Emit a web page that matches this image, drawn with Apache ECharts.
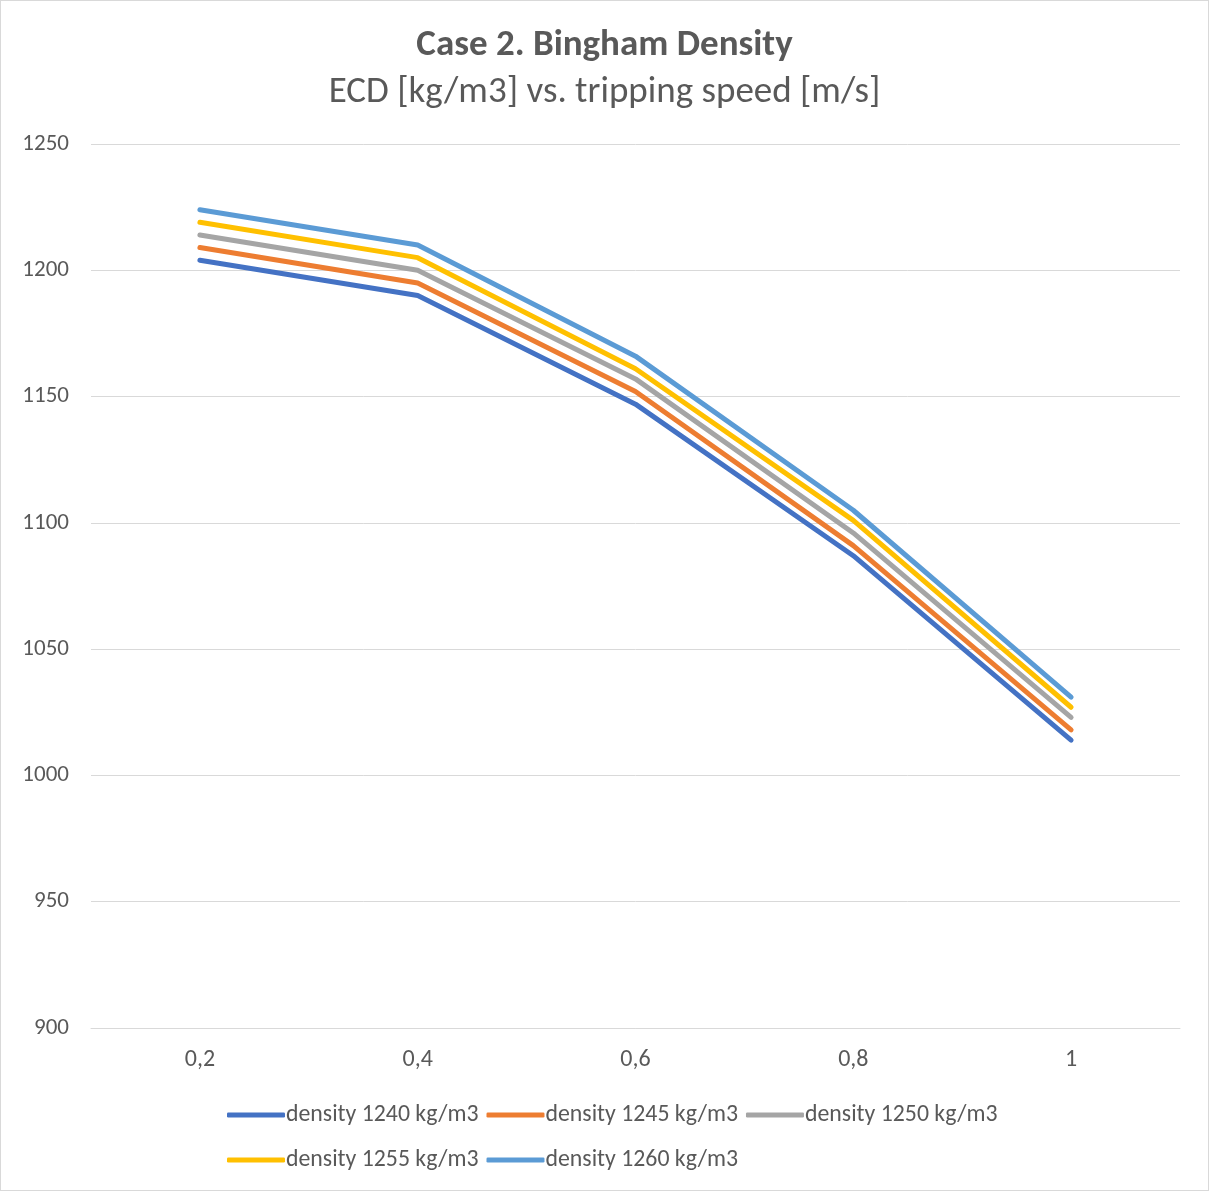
<!DOCTYPE html>
<html>
<head>
<meta charset="utf-8">
<script src="https://cdn.jsdelivr.net/npm/echarts@6/dist/echarts.min.js"></script>
<style>
  html, body { margin: 0; padding: 0; background: #fff; }
  #chart { width: 1209px; height: 1191px; box-sizing: border-box; border: 1px solid #d9d9d9; }
</style>
</head>
<body>
<div id="chart"></div>
<script>
// Tripping speed categories [m/s]
const speeds = ['0,2', '0,4', '0,6', '0,8', '1'];

// ECD [kg/m3] for each mud density
const ecd1240 = [1204, 1190, 1147, 1087, 1014];
const ecd1245 = [1209, 1195, 1152, 1091, 1018];
const ecd1250 = [1214, 1200, 1157, 1096, 1023];
const ecd1255 = [1219, 1205, 1161, 1101, 1027];
const ecd1260 = [1224, 1210, 1166, 1105, 1031];

const seriesNames = [
  'density 1240 kg/m3',
  'density 1245 kg/m3',
  'density 1250 kg/m3',
  'density 1255 kg/m3',
  'density 1260 kg/m3'
];
const seriesData = [ecd1240, ecd1245, ecd1250, ecd1255, ecd1260];
const colors = ['#4472C4', '#ED7D31', '#A5A5A5', '#FFC000', '#5B9BD5'];

const font = 'Carlito, Calibri, "Liberation Sans Narrow", "Open Sans", sans-serif';

const chart = echarts.init(document.getElementById('chart'), null, { renderer: 'canvas' });

const legendCommon = {
  left: 221,
  itemWidth: 58,
  itemHeight: 5,
  itemGap: 8,
  icon: 'roundRect',
  textStyle: { color: '#595959', fontSize: 23.8, fontFamily: font, padding: [0, 0, 0, -4] }
};

chart.setOption({
  color: colors,
  animation: false,
  title: {
    text: 'Case 2. Bingham Density',
    subtext: 'ECD [kg/m3] vs. tripping speed [m/s]',
    left: 'center',
    top: 21,
    itemGap: 10,
    textStyle: { color: '#595959', fontSize: 37, fontWeight: 'bold', fontFamily: font },
    subtextStyle: { color: '#595959', fontSize: 37, fontFamily: font }
  },
  legend: [
    Object.assign({}, legendCommon, { top: 1097, data: seriesNames.slice(0, 3) }),
    Object.assign({}, legendCommon, { top: 1142, data: seriesNames.slice(3) })
  ],
  grid: { left: 90, right: 28, top: 143, bottom: 162, containLabel: false },
  xAxis: {
    type: 'category',
    data: speeds,
    boundaryGap: true,
    axisLine: { lineStyle: { color: '#d9d9d9', width: 1 } },
    axisTick: { show: false },
    axisLabel: { color: '#595959', fontSize: 24, fontFamily: font, margin: 20 }
  },
  yAxis: {
    type: 'value',
    min: 900,
    max: 1250,
    interval: 50,
    axisLine: { show: false },
    axisTick: { show: false },
    axisLabel: {
      color: '#595959', fontSize: 23, fontFamily: font, margin: 22,
      formatter: v => String(v)
    },
    splitLine: { lineStyle: { color: '#d9d9d9', width: 1 } }
  },
  series: seriesNames.map((name, i) => ({
    name,
    type: 'line',
    data: seriesData[i],
    symbol: 'none',
    lineStyle: { width: 5, color: colors[i], cap: 'round', join: 'round' },
    itemStyle: { color: colors[i] }
  }))
});
</script>
</body>
</html>
